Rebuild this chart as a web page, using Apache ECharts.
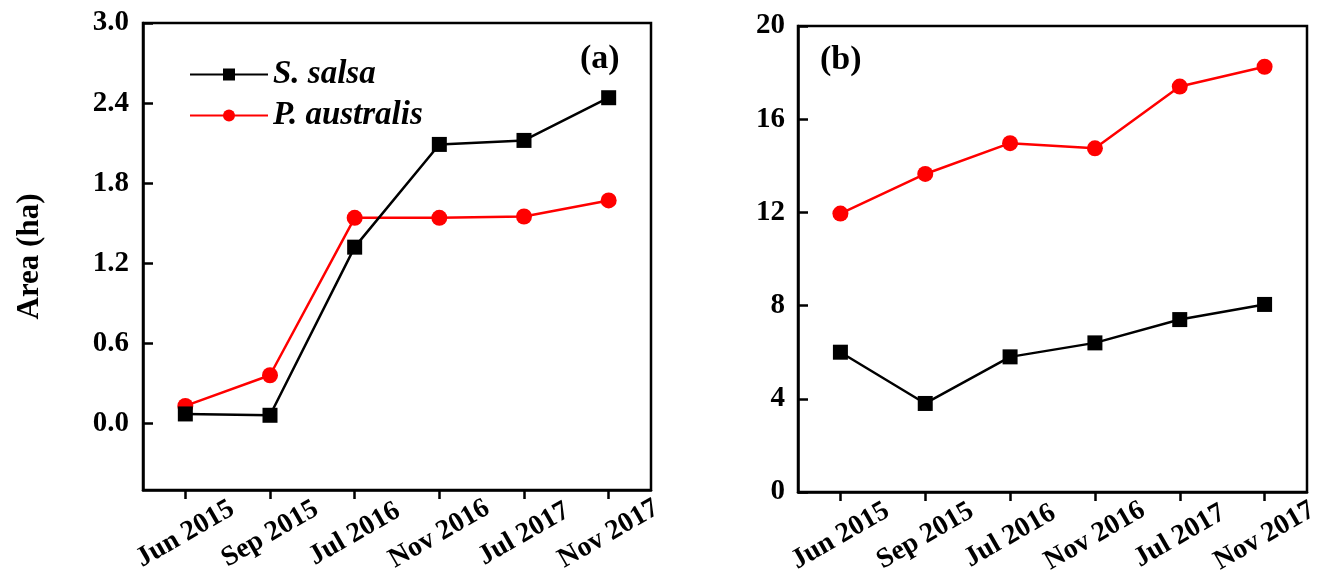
<!DOCTYPE html>
<html>
<head>
<meta charset="utf-8">
<script src="https://cdn.jsdelivr.net/npm/echarts@6/dist/echarts.min.js"></script>
<style>
    html, body { margin: 0; padding: 0; background: #fff; }
    #chart { width: 1323px; height: 573px; }
</style>
</head>
<body>
<div id="chart"></div>
<script>
const months = ['Jun 2015', 'Sep 2015', 'Jul 2016', 'Nov 2016', 'Jul 2017', 'Nov 2017'];

// (a) area (ha)
const salsaA = [0.07, 0.06, 1.32, 2.09, 2.12, 2.44];
const australisA = [0.13, 0.36, 1.54, 1.54, 1.55, 1.67];
const ticksA = [0, 0.6, 1.2, 1.8, 2.4, 3.0];

// (b)
const salsaB = [6.0, 3.8, 5.8, 6.4, 7.4, 8.05];
const australisB = [11.95, 13.65, 14.97, 14.75, 17.4, 18.25];

const FONT = 'Liberation Serif';
const chart = echarts.init(document.getElementById('chart'));

const labelFont = { color: '#000', fontFamily: FONT, fontWeight: 'bold', fontSize: 29 };

const xAxisBase = {
    type: 'category',
    data: months,
    boundaryGap: true,
    axisLine: { show: true, onZero: false, lineStyle: { color: '#000', width: 2.5 } },
    axisTick: { show: true, interval: 0, alignWithLabel: true, length: 9, lineStyle: { color: '#000', width: 2.5 } },
    axisLabel: Object.assign({}, labelFont, {
        interval: 0,
        hideOverlap: false,
        rotate: 30,
        margin: 44,
        align: 'center',
        verticalAlign: 'middle',
        fontSize: 28
    }),
    splitLine: { show: false }
};

const line = (name, data, color, symbol, idx) => ({
    name: name,
    type: 'line',
    xAxisIndex: idx,
    yAxisIndex: idx,
    data: data,
    symbol: symbol,
    symbolSize: symbol === 'rect' ? 15 : 16,
    lineStyle: { color: color, width: 2.5 },
    itemStyle: { color: color },
    z: symbol === 'rect' ? 3 : 2
});

chart.setOption({
    animation: false,
    legend: {
        left: 184,
        top: 53,
        orient: 'vertical',
        itemWidth: 78,
        itemHeight: 15,
        itemGap: 8,
        data: ['S. salsa', 'P. australis'],
        textStyle: { fontFamily: FONT, fontStyle: 'italic', fontWeight: 'bold', fontSize: 33, color: '#000' }
    },
    grid: [
        { left: 143, right: 672, top: 23, bottom: 83, outerBoundsMode: 'none', show: true, borderColor: '#000', borderWidth: 2.5 },
        { left: 798, right: 16, top: 26, bottom: 81, outerBoundsMode: 'none', show: true, borderColor: '#000', borderWidth: 2.5 }
    ],
    xAxis: [
        Object.assign({ gridIndex: 0 }, xAxisBase),
        Object.assign({ gridIndex: 1 }, xAxisBase)
    ],
    yAxis: [
        {
            gridIndex: 0,
            type: 'value',
            min: -0.5,
            max: 3.0,
            name: 'Area (ha)',
            nameLocation: 'middle',
            nameRotate: 90,
            nameGap: 98,
            nameTextStyle: { fontFamily: FONT, fontWeight: 'bold', fontSize: 31, color: '#000' },
            axisLine: { show: true, lineStyle: { color: '#000', width: 2.5 } },
            axisTick: { show: true, inside: true, length: 10, customValues: ticksA, lineStyle: { color: '#000', width: 2.5 } },
            axisLabel: Object.assign({
                customValues: ticksA,
                formatter: v => v.toFixed(1),
                margin: 14
            }, labelFont),
            splitLine: { show: false }
        },
        {
            gridIndex: 1,
            type: 'value',
            min: 0,
            max: 20,
            interval: 4,
            axisLine: { show: true, lineStyle: { color: '#000', width: 2.5 } },
            axisTick: { show: true, inside: true, length: 10, lineStyle: { color: '#000', width: 2.5 } },
            axisLabel: Object.assign({ margin: 13 }, labelFont),
            splitLine: { show: false }
        }
    ],
    graphic: [
        { type: 'text', left: 580, top: 42, style: { text: '(a)', fontFamily: FONT, fontWeight: 'bold', fontSize: 34, fill: '#000' } },
        { type: 'text', left: 820, top: 43, style: { text: '(b)', fontFamily: FONT, fontWeight: 'bold', fontSize: 34, fill: '#000' } }
    ],
    series: [
        line('S. salsa', salsaA, '#000', 'rect', 0),
        line('P. australis', australisA, '#ff0000', 'circle', 0),
        line('S. salsa', salsaB, '#000', 'rect', 1),
        line('P. australis', australisB, '#ff0000', 'circle', 1)
    ]
});
</script>
</body>
</html>
